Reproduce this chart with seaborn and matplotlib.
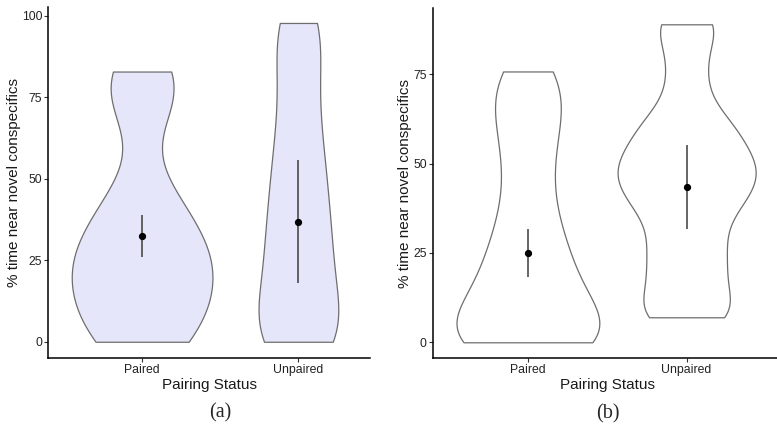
import numpy as np
import pandas as pd
import matplotlib
matplotlib.use("Agg")
import matplotlib.pyplot as plt
import seaborn as sns

groups = ["Paired", "Unpaired"]

# Per-individual percentages, panel (a)
paired_a = [0, 1, 6, 12, 17, 21, 24, 28, 33, 39, 46, 74, 78, 82.9]
unpaired_a = [0, 0, 0, 3, 8, 13, 18, 23, 28, 33, 38, 44, 50, 56, 63, 71, 80, 89, 97.8, 97.8]

# Per-individual percentages, panel (b)
paired_b = [0, 0, 0, 0, 2, 5, 8, 11, 14, 19, 22, 27, 32, 39, 47, 55, 61, 67, 72, 75.8]
unpaired_b = [7, 7, 10, 15, 19, 23, 27, 31, 36, 39, 41, 44, 46, 48, 50, 52, 55, 58, 61, 64,
              72, 80, 89, 89]

# Group means with lower / upper interval limits
mean_a = [32.4, 36.8]
low_a = [25.9, 17.9]
high_a = [38.8, 55.7]
mean_b = [25.0, 43.4]
low_b = [18.2, 31.6]
high_b = [31.6, 55.2]

yticks_a = [0, 25, 50, 75, 100]
yticks_b = [0, 25, 50, 75]

sns.set_style("ticks")
plt.rcParams["font.family"] = ["Liberation Sans", "DejaVu Sans"]

W, H = 777, 429
fig = plt.figure(figsize=(W / 100, H / 100), dpi=100)


def place(left, top, right, bottom):
    return fig.add_axes([left / W, 1 - bottom / H, (right - left) / W, (bottom - top) / H])


def panel(ax, samples, bws, widths, means, lows, highs, fill, xlim, ylim, yticks):
    for g, vals, bw, w in zip(groups, samples, bws, widths):
        df = pd.DataFrame({"status": [g] * len(vals), "pct": vals})
        sns.violinplot(data=df, x="status", y="pct", order=groups, cut=0, inner=None,
                       bw_method=bw / np.std(vals, ddof=1), density_norm="width",
                       width=w, color=fill, saturation=1, linecolor="#6e6e6e",
                       linewidth=0.9, ax=ax)
    x = np.arange(len(groups))
    ax.vlines(x, lows, highs, color="#3c3c3c", lw=1.1, zorder=3)
    ax.plot(x, means, "o", color="black", ms=4.2, zorder=4)

    ax.set_xlim(*xlim)
    ax.set_ylim(*ylim)
    ax.set_yticks(yticks)
    ax.set_yticklabels([str(t) for t in yticks])
    ax.set_xlabel("Pairing Status", fontsize=11, labelpad=1.5, color="#1a1a1a")
    ax.set_ylabel("% time near novel conspecifics", fontsize=11, labelpad=1, color="#1a1a1a")
    ax.tick_params(length=2.75, width=0.8, color="#333333", labelsize=8.8,
                   pad=1.5, labelcolor="#222222")
    sns.despine(ax=ax)
    for side in ("left", "bottom"):
        ax.spines[side].set_linewidth(1.1)
        ax.spines[side].set_color("black")
    ax.grid(False)


ax_a = place(48.3, 7.0, 370.0, 357.7)
panel(ax_a, [paired_a, unpaired_a], [12, 12], [0.9, 0.51], mean_a, low_a, high_a,
      "#E6E6FA", (-0.6, 1.458), (-4.89, 102.7), yticks_a)

ax_b = place(432.7, 8.4, 432.7 + 2.2 * 158.7, 358.2)
panel(ax_b, [paired_b, unpaired_b], [9, 6], [0.9, 0.87], mean_b, low_b, high_b,
      "white", (-0.6, 1.6), (-4.45, 93.45), yticks_b)

serif = ["Liberation Serif", "DejaVu Serif"]
fig.text(220 / W, 1 - 413 / H, "(a)", ha="center", va="center", family=serif, fontsize=14.5)
fig.text(608 / W, 1 - 414 / H, "(b)", ha="center", va="center", family=serif, fontsize=14.5)

fig.savefig("out.png", dpi=100)
